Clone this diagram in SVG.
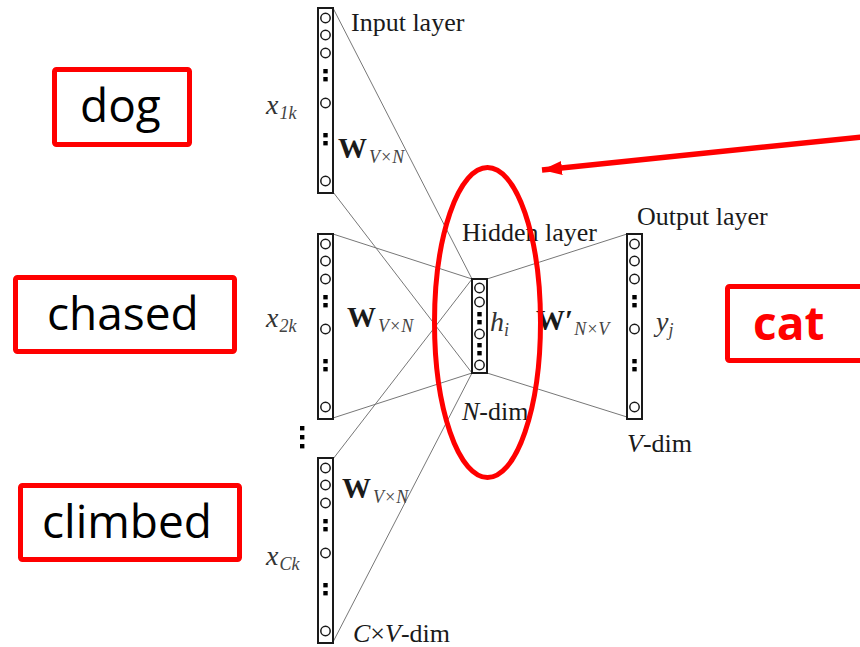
<svg xmlns="http://www.w3.org/2000/svg" xmlns:xlink="http://www.w3.org/1999/xlink" width="860" height="647" viewBox="0 0 860 647">
  <style>
    .frame { fill: #fff; stroke: #1a1a1a; stroke-width: 2; }
    .unit { fill: #fff; stroke: #1a1a1a; stroke-width: 1.5; }
    .dot { fill: #000; }
    .edge { stroke: #777; stroke-width: 1; fill: none; }
    .serif { font-family: "Liberation Serif", "Times New Roman", serif; fill: #1a1a1a; font-size: 26px; }
    .it { font-style: italic; }
    .b { font-weight: bold; font-size: 29px; }
    .var { font-size: 28px; fill: #333; }
    .sub { font-size: 18px; font-style: italic; font-weight: normal; fill: #444; }
    .tag { fill: #fff; stroke: #ff0000; stroke-width: 5; }
    .word { font-family: "Open Sans", "Noto Sans", sans-serif; font-size: 46px; fill: #000; }
    .hl { fill: none; stroke: #ff0000; stroke-width: 5; }
  </style>
  <defs>
    <!-- one-hot vector column: 15 x 185 -->
    <g id="column">
      <rect class="frame" x="0" y="0" width="15" height="185"/>
      <circle class="unit" cx="7.5" cy="10" r="4.7"/>
      <circle class="unit" cx="7.5" cy="27" r="4.7"/>
      <circle class="unit" cx="7.5" cy="45" r="4.7"/>
      <rect class="dot" x="5.3" y="61" width="4.4" height="4.4"/>
      <rect class="dot" x="5.3" y="69" width="4.4" height="4.4"/>
      <circle class="unit" cx="7.5" cy="95" r="4.7"/>
      <rect class="dot" x="5.3" y="125" width="4.4" height="4.4"/>
      <rect class="dot" x="5.3" y="133" width="4.4" height="4.4"/>
      <circle class="unit" cx="7.5" cy="173" r="4.7"/>
    </g>
    <marker id="redhead" viewBox="0 0 20 14" refX="20" refY="7" markerWidth="20" markerHeight="14" markerUnits="userSpaceOnUse" orient="auto">
      <path d="M0,0 L20,7 L0,14 z" fill="#ff0000"/>
    </marker>
  </defs>

  <!-- connectors -->
  <g id="connectors">
    <line class="edge" x1="333" y1="8" x2="472" y2="279"/>
    <line class="edge" x1="333" y1="192" x2="472" y2="373"/>
    <line class="edge" x1="333" y1="234" x2="472" y2="279"/>
    <line class="edge" x1="333" y1="418" x2="472" y2="373"/>
    <line class="edge" x1="333" y1="459" x2="472" y2="279"/>
    <line class="edge" x1="333" y1="642" x2="472" y2="373"/>
    <line class="edge" x1="487" y1="279" x2="627" y2="234"/>
    <line class="edge" x1="487" y1="373" x2="627" y2="417"/>
  </g>

  <!-- input layer, word 1 -->
  <g id="input1">
    <use xlink:href="#column" x="318" y="8"/>
    <text class="serif" x="351" y="31">Input layer</text>
    <text class="serif it var" x="266" y="114">x<tspan class="sub" dy="5" dx="1">1k</tspan></text>
    <text class="serif b" x="338" y="158">W<tspan class="sub" dy="5" dx="2">V×N</tspan></text>
  </g>

  <!-- input layer, word 2 -->
  <g id="input2">
    <use xlink:href="#column" x="318" y="234"/>
    <text class="serif it var" x="266" y="327">x<tspan class="sub" dy="5" dx="1">2k</tspan></text>
    <text class="serif b" x="347" y="327">W<tspan class="sub" dy="5" dx="2">V×N</tspan></text>
  </g>

  <!-- ellipsis between context words -->
  <g id="ellipsis">
    <rect class="dot" x="300" y="426" width="4.4" height="4.4"/>
    <rect class="dot" x="300" y="435" width="4.4" height="4.4"/>
    <rect class="dot" x="300" y="444" width="4.4" height="4.4"/>
  </g>

  <!-- input layer, word C -->
  <g id="inputC">
    <use xlink:href="#column" x="318" y="458"/>
    <text class="serif it var" x="266" y="565">x<tspan class="sub" dy="5" dx="1">Ck</tspan></text>
    <text class="serif b" x="342" y="498">W<tspan class="sub" dy="5" dx="2">V×N</tspan></text>
    <text class="serif" x="353" y="642"><tspan class="it">C</tspan>×<tspan class="it">V</tspan>-dim</text>
  </g>

  <!-- hidden layer -->
  <g id="hidden">
    <rect class="frame" x="472" y="279" width="15" height="94"/>
    <circle class="unit" cx="479.5" cy="288" r="4.7"/>
    <circle class="unit" cx="479.5" cy="302" r="4.7"/>
    <rect class="dot" x="477.3" y="312" width="4.4" height="4.4"/>
    <rect class="dot" x="477.3" y="320" width="4.4" height="4.4"/>
    <circle class="unit" cx="479.5" cy="334" r="4.7"/>
    <rect class="dot" x="477.3" y="343" width="4.4" height="4.4"/>
    <rect class="dot" x="477.3" y="351" width="4.4" height="4.4"/>
    <circle class="unit" cx="479.5" cy="365" r="4.7"/>
    <text class="serif" x="462" y="241">Hidden layer</text>
    <text class="serif it var" x="490" y="331">h<tspan class="sub" dy="5" dx="0">i</tspan></text>
    <text class="serif" x="462" y="420"><tspan class="it">N</tspan>-dim</text>
  </g>

  <!-- output layer -->
  <g id="output">
    <use xlink:href="#column" x="627" y="234"/>
    <text class="serif" x="637" y="225">Output layer</text>
    <text class="serif b" x="536" y="330">W′<tspan class="sub" dy="5" dx="1">N×V</tspan></text>
    <text class="serif it var" x="656" y="331">y<tspan class="sub" dy="5" dx="0">j</tspan></text>
    <text class="serif" x="627" y="452"><tspan class="it">V</tspan>-dim</text>
  </g>

  <!-- context words -->
  <g id="word-dog">
    <rect class="tag" x="54.5" y="69.5" width="135" height="75" rx="2"/>
    <text class="word" x="80" y="122">dog</text>
  </g>
  <g id="word-chased">
    <rect class="tag" x="15.5" y="277.5" width="219" height="74" rx="2"/>
    <text class="word" x="47" y="330">chased</text>
  </g>
  <g id="word-climbed">
    <rect class="tag" x="20.5" y="485.5" width="219" height="74" rx="2"/>
    <text class="word" x="42" y="538">climbed</text>
  </g>

  <!-- target word -->
  <g id="word-cat">
    <rect class="tag" x="727.5" y="286.5" width="200" height="74" rx="2"/>
    <text class="word" x="753" y="340" style="font-weight:bold; fill:#ff0000;">cat</text>
  </g>

  <!-- highlight of the hidden layer -->
  <g id="highlight">
    <ellipse class="hl" cx="487.5" cy="322.5" rx="53" ry="155"/>
    <line x1="862" y1="137" x2="542" y2="170" stroke="#ff0000" stroke-width="5.5" marker-end="url(#redhead)"/>
  </g>
</svg>
